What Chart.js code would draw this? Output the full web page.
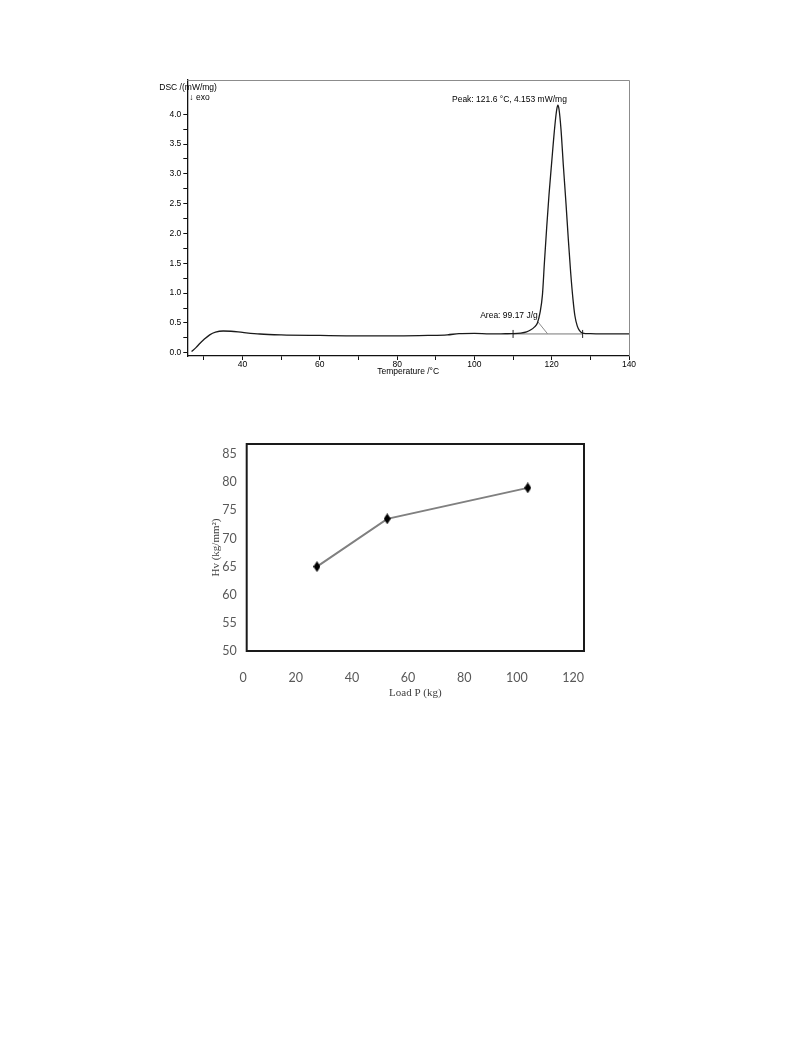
<!DOCTYPE html>
<html>
<head>
<meta charset="utf-8">
<title>DSC curve and microhardness</title>
<script src="https://cdn.jsdelivr.net/npm/chart.js@4.4.1/dist/chart.umd.min.js"></script>
<style>
  html, body { margin: 0; padding: 0; background: #fff; }
  body { width: 793px; height: 1057px; position: relative; overflow: hidden; }
  canvas { position: absolute; }
  #dscChart { left: 150px; top: 75px; }
  #hvChart { left: 200px; top: 430px; }
</style>
</head>
<body>
<canvas id="dscChart" width="490" height="310"></canvas>
<canvas id="hvChart" width="400" height="280"></canvas>
<script>
// ---- DSC trace ----
const dscTemp = [26.8, 28, 29, 30, 31.5, 33, 35, 37, 40, 44.5, 50, 60, 70, 80, 88, 93, 96, 100, 104, 108,
  110, 112, 113.5, 114.5, 115.5, 116.3, 117, 117.6, 118.1, 118.7, 119.3, 120, 120.8, 121.3, 121.6,
  121.9, 122.4, 123, 123.7, 124.3, 124.9, 125.5, 126, 126.6, 127.2, 128, 130, 135, 140];
const dscSignal = [0.02, 0.09, 0.16, 0.22, 0.30, 0.345, 0.364, 0.36, 0.34, 0.314, 0.30, 0.29, 0.283, 0.283, 0.29, 0.30, 0.32, 0.325, 0.315, 0.318,
  0.32, 0.33, 0.35, 0.38, 0.43, 0.5, 0.68, 0.97, 1.5, 2.1, 2.65, 3.2, 3.8, 4.08, 4.153,
  4.08, 3.75, 3.15, 2.5, 1.9, 1.35, 0.9, 0.62, 0.45, 0.37, 0.33, 0.32, 0.315, 0.315];
const peakTemp = 121.6;
const peakSignal = 4.153;
const peakLabel = 'Peak: 121.6 \u00b0C, 4.153 mW/mg';
const areaLabel = 'Area: 99.17 J/g';
// integration baseline and the leader line of the area label
const baseTemp = [110, 128];
const baseSignal = [0.315, 0.315];
const leaderTemp = [116.4, 118.9];
const leaderSignal = [0.52, 0.32];
// axis ticks: labelled every 20 / 0.5, small marks every 10 / 0.25
const dscXTicks = [30, 40, 50, 60, 70, 80, 90, 100, 110, 120, 130, 140];
const dscYTicks = [0, 0.25, 0.5, 0.75, 1, 1.25, 1.5, 1.75, 2, 2.25, 2.5, 2.75, 3, 3.25, 3.5, 3.75, 4];

// ---- Microhardness ----
const loadP = [25, 50, 100];
const hv = [65, 73.5, 79];
const hvYTicks = [50, 55, 60, 65, 70, 75, 80, 85];

Chart.defaults.animation = false;
Chart.defaults.plugins.legend.display = false;
Chart.defaults.plugins.tooltip.enabled = false;

const toXY = (xs, ys) => xs.map((v, i) => ({ x: v, y: ys[i] }));
const asTicks = vals => vals.map(v => ({ value: v }));
const dscFont = { family: '"Liberation Sans", Arial, sans-serif', size: 8.5 };

// fixed axis box; label overflow is left to the layout padding
function fixBox(s, size) {
  if (s.isHorizontal()) s.height = size; else s.width = size;
  s.paddingTop = 0;
  s.paddingBottom = 0;
  s.paddingLeft = 0;
  s.paddingRight = 0;
}

// frame + free text of the DSC plot
const dscText = {
  id: 'dscText',
  afterDraw(chart) {
    const { ctx, chartArea: a, scales: { x, y } } = chart;
    ctx.save();
    ctx.strokeStyle = '#8c8c8c';
    ctx.lineWidth = 1;
    ctx.beginPath();
    ctx.moveTo(a.left, a.top + 0.5);
    ctx.lineTo(a.right + 0.5, a.top + 0.5);
    ctx.lineTo(a.right + 0.5, a.bottom);
    ctx.stroke();

    ctx.font = '8.5px "Liberation Sans", Arial, sans-serif';
    ctx.fillStyle = '#000';
    ctx.textBaseline = 'middle';
    ctx.textAlign = 'left';
    ctx.fillText('DSC /(mW/mg)', a.left - 28, a.top + 8);
    ctx.fillText('\u2193 exo', a.left + 2, a.top + 18);
    ctx.textAlign = 'right';
    ctx.fillText(peakLabel, x.getPixelForValue(peakTemp) + 9, y.getPixelForValue(peakSignal) - 5);
    ctx.fillText(areaLabel, x.getPixelForValue(leaderTemp[0]), y.getPixelForValue(leaderSignal[0]) - 6);
    ctx.restore();
  }
};

function initDscChart() {
  const ctx = document.getElementById('dscChart').getContext('2d');
  new Chart(ctx, {
    type: 'line',
    data: {
      datasets: [{
        data: toXY(dscTemp, dscSignal),
        borderColor: '#1a1a1a',
        borderWidth: 1.3,
        pointRadius: 0,
        cubicInterpolationMode: 'monotone'
      }, {
        data: toXY(baseTemp, baseSignal),
        borderColor: '#777',
        borderWidth: 1,
        pointStyle: 'line',
        rotation: 90,
        pointRadius: 4,
        pointBorderColor: '#222',
        pointBorderWidth: 1
      }, {
        data: toXY(leaderTemp, leaderSignal),
        borderColor: '#8a8a8a',
        borderWidth: 1,
        pointRadius: 0
      }]
    },
    options: {
      responsive: false,
      devicePixelRatio: 1,
      layout: { padding: { left: 0, top: 5, right: 11, bottom: 0 } },
      scales: {
        x: {
          type: 'linear',
          min: 25.7,
          max: 140,
          afterBuildTicks: s => { s.ticks = asTicks(dscXTicks); },
          afterFit: s => fixBox(s, 29),
          ticks: {
            autoSkip: false,
            maxRotation: 0,
            padding: 0,
            color: '#000',
            font: dscFont,
            callback: v => (v % 20 === 0 ? String(v) : '')
          },
          grid: { drawOnChartArea: false, drawTicks: true, tickLength: 4, color: '#111' },
          border: { color: '#111', width: 1.3 },
          title: { display: true, text: 'Temperature /\u00b0C', color: '#000', font: dscFont, padding: { top: 0, bottom: 8 } }
        },
        y: {
          type: 'linear',
          min: -0.055,
          max: 4.575,
          afterBuildTicks: s => { s.ticks = asTicks(dscYTicks); },
          afterFit: s => fixBox(s, 37.3),
          ticks: {
            autoSkip: false,
            padding: 2,
            color: '#000',
            font: dscFont,
            callback: v => (Math.abs(v * 2 - Math.round(v * 2)) < 1e-6 ? v.toFixed(1) : '')
          },
          grid: { drawOnChartArea: false, drawTicks: true, tickLength: 4, color: '#111' },
          border: { color: '#111', width: 1.3 }
        }
      }
    },
    plugins: [dscText]
  });
}

// elongated diamond marker
function diamond(w, h) {
  const c = document.createElement('canvas');
  c.width = w;
  c.height = h;
  const g = c.getContext('2d');
  g.fillStyle = '#000';
  g.beginPath();
  g.moveTo(w / 2, 0);
  g.lineTo(w, h / 2);
  g.lineTo(w / 2, h);
  g.lineTo(0, h / 2);
  g.closePath();
  g.fill();
  return c;
}

const hvFrame = {
  id: 'hvFrame',
  afterDraw(chart) {
    const { ctx, chartArea: a } = chart;
    ctx.save();
    ctx.strokeStyle = '#1a1a1a';
    ctx.lineWidth = 2;
    ctx.strokeRect(a.left, a.top, a.right - a.left, a.bottom - a.top);
    ctx.restore();
  }
};

function initHvChart() {
  const ctx = document.getElementById('hvChart').getContext('2d');
  const tickFont = { family: 'Lato, "Open Sans", sans-serif', size: 12.5 };
  const titleFont = { family: '"Liberation Serif", "Times New Roman", serif', size: 11 };
  new Chart(ctx, {
    type: 'line',
    data: {
      datasets: [{
        data: toXY(loadP, hv),
        borderColor: '#808080',
        borderWidth: 2,
        pointStyle: diamond(7, 11),
        pointRadius: 5
      }]
    },
    options: {
      responsive: false,
      devicePixelRatio: 1,
      layout: { padding: { left: 0, top: 14, right: 16, bottom: 0 } },
      scales: {
        x: {
          type: 'linear',
          min: 0,
          max: 120,
          afterFit: s => fixBox(s, 59),
          ticks: { stepSize: 20, align: 'end', maxRotation: 0, padding: 19, color: '#595959', font: tickFont },
          grid: { display: false, drawTicks: false },
          border: { display: false },
          title: { display: true, text: 'Load P (kg)', color: '#404040', font: titleFont, padding: { top: 0, bottom: 10.7 } }
        },
        y: {
          type: 'linear',
          min: 50,
          max: 86.8,
          afterBuildTicks: s => { s.ticks = asTicks(hvYTicks); },
          afterFit: s => fixBox(s, 46.7),
          ticks: { padding: 10, color: '#595959', font: tickFont },
          grid: { display: false, drawTicks: false },
          border: { display: false },
          title: { display: true, text: 'Hv (kg/mm\u00b2)', color: '#404040', font: titleFont, padding: { top: 10, bottom: 0 } }
        }
      }
    },
    plugins: [hvFrame]
  });
}

initDscChart();
initHvChart();
</script>
</body>
</html>
